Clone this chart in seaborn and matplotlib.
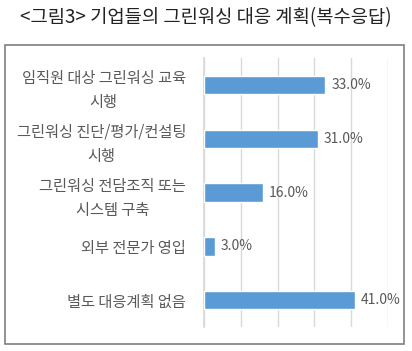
import pandas as pd
import seaborn as sns
import matplotlib.pyplot as plt
from matplotlib.patches import Rectangle

# data
plans = ['임직원 대상 그린워싱 교육\n시행',
         '그린워싱 진단/평가/컨설팅\n시행',
         '그린워싱 전담조직 또는\n시스템 구축',
         '외부 전문가 영입',
         '별도 대응계획 없음']
shares = [33.0, 31.0, 16.0, 3.0, 41.0]

df = pd.DataFrame({'plan': plans, 'share': shares})

sns.set_theme(style='white')
plt.rcParams['font.family'] = ['Noto Sans CJK KR', 'DejaVu Sans']

fig = plt.figure(figsize=(4.12, 3.51), dpi=100)
ax = fig.add_axes([0.495, 0.068, 0.447, 0.767])

sns.barplot(data=df, x='share', y='plan', color='#5B9BD5', saturation=1,
            width=0.34, ax=ax, zorder=3)

ax.set_xlim(0, 50)
ax.set_xticks(range(0, 51, 10))
ax.xaxis.grid(True, color='#d9d9d9', lw=1, zorder=0)
ax.tick_params(axis='x', length=0, labelbottom=False)
ax.tick_params(axis='y', length=0, pad=13)
ax.set_xlabel('')
ax.set_ylabel('')
for lab in ax.get_yticklabels():
    lab.set_multialignment('center')
    lab.set_linespacing(1.55)
    lab.set_fontsize(11)
    lab.set_color('#595959')

for s in ['top', 'right', 'bottom']:
    ax.spines[s].set_visible(False)
ax.spines['left'].set_color('#d9d9d9')

for i, v in enumerate(shares):
    ax.text(v + 1.6, i, f'{v:.1f}%', va='center', ha='left',
            fontsize=10, color='#595959')

# outer frame
fig.patches.append(Rectangle((5 / 412, 1 - 344 / 351), 399 / 412, 299 / 351,
                             transform=fig.transFigure, fill=False,
                             edgecolor='#7f7f7f', lw=1.2))

fig.text(0.5, 1 - 18 / 351, '<그림3> 기업들의 그린워싱 대응 계획(복수응답)',
         ha='center', va='center', fontsize=13.5, color='#222222')

fig.savefig('out.png', dpi=100)
